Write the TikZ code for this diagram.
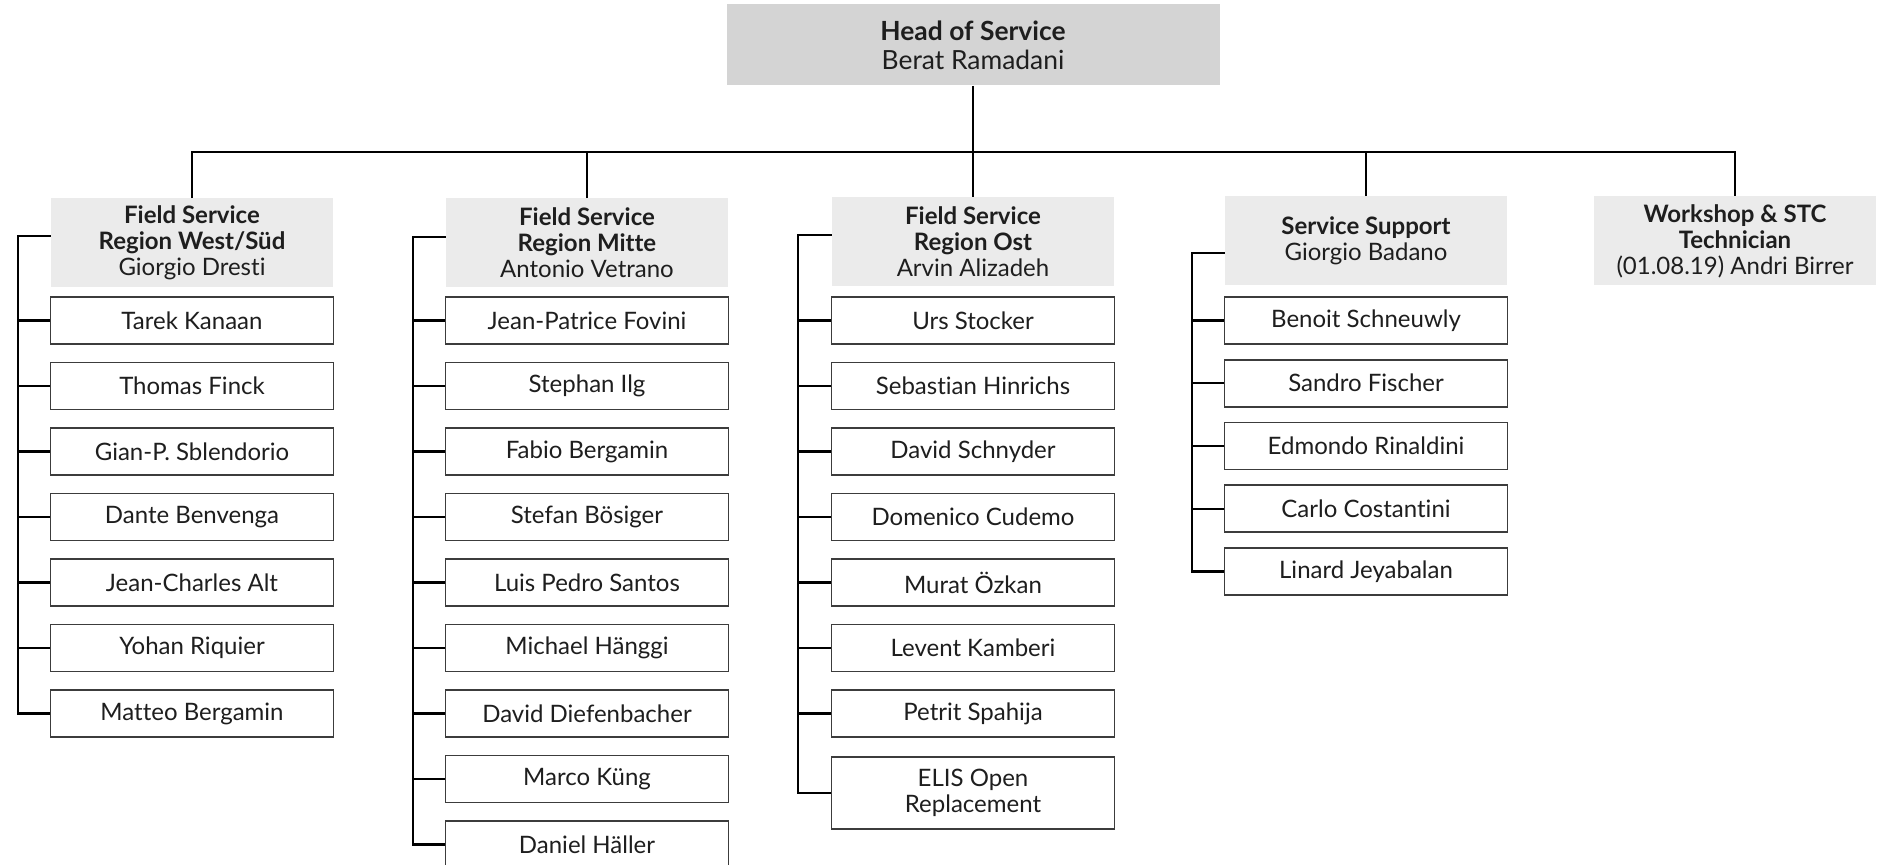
\documentclass[tikz,border=0pt]{standalone}
\usepackage{fontspec}
\setmainfont{Lato}[Ligatures=NoCommon]
\usepackage{tikz}
\usetikzlibrary{
    calc,
    positioning
}
\definecolor{headgray}{HTML}{D4D4D4}
\definecolor{leadgray}{HTML}{EBEBEB}
\definecolor{boxline}{HTML}{3C3C3C}
\definecolor{txt}{HTML}{1E1E1E}
\tikzset{
    head box/.style={
        shape=rectangle, fill=headgray, align=center, text=txt,
        minimum width=246.5pt, minimum height=40.5pt, inner sep=0pt,
        font=\fontsize{13.2}{14.5}\selectfont
    },
    lead box/.style={
        shape=rectangle, fill=leadgray, align=center, text=txt,
        minimum width=141pt, minimum height=44.5pt, inner sep=0pt,
        font=\fontsize{12}{13}\selectfont
    },
    staff box/.style={
        shape=rectangle, draw=boxline, line width=0.8pt, fill=white,
        align=center, text=txt, inner sep=0pt,
        minimum width=141.5pt, minimum height=#1,
        font=\fontsize{12}{13}\selectfont
    },
    staff box/.default=23.5pt,
    link/.style={
        draw=black, line width=1.2pt
    },
}

\begin{document}
\begin{tikzpicture}[x=0.5pt, y=-0.5pt]
    \useasboundingbox (0,0) rectangle (1877,865);

    % head and the five units
    \node[head box] (head) at (973,45) {\textbf{Head of Service}\\Berat Ramadani};
    \node[lead box] (west) at (192,243) {\textbf{Field Service}\\\textbf{Region West/Süd}\\Giorgio Dresti};
    \node[lead box] (mitte) at (587,243) {\textbf{Field Service}\\\textbf{Region Mitte}\\Antonio Vetrano};
    \node[lead box] (ost) at (973,242) {\textbf{Field Service}\\\textbf{Region Ost}\\Arvin Alizadeh};
    \node[lead box] (support) at (1366,241) {\textbf{Service Support}\\Giorgio Badano};
    \node[lead box] (shop) at (1735,241) {\textbf{Workshop \& STC}\\\textbf{Technician}\\(01.08.19) Andri Birrer};

    \coordinate (bus) at (973,152);
    \draw[link] (head.south) -- (ost.north);
    \draw[link] (west.north) |- (bus) -| (shop.north);
    \draw[link] (mitte.north) -- (mitte.north |- bus);
    \draw[link] (support.north) -- (support.north |- bus);

    % spine tops
    \coordinate (wtop) at (18,236);
    \coordinate (mtop) at (413,237);
    \coordinate (otop) at (798,235);
    \coordinate (stop) at (1192,253);

    % Region West/Sued
    \foreach \name [count=\i] in {Tarek Kanaan, Thomas Finck, Gian-P. Sblendorio,
        Dante Benvenga, Jean-Charles Alt, Yohan Riquier, Matteo Bergamin} {
        \node[staff box] (west-\i) at (192,{320.5+65.5*(\i-1)}) {\name};
        \draw[link] (west-\i.west) -- (west-\i.west -| wtop);
    }
    \draw[link] (wtop -| west.west) -- (wtop) |- (west-7.west);

    % Region Mitte
    \foreach \name [count=\i] in {Jean-Patrice Fovini, Stephan Ilg, Fabio Bergamin,
        Stefan Bösiger, Luis Pedro Santos, Michael Hänggi, David Diefenbacher,
        Marco Küng, Daniel Häller} {
        \node[staff box] (mitte-\i) at (587,{320.5+65.5*(\i-1)}) {\name};
        \draw[link] (mitte-\i.west) -- (mitte-\i.west -| mtop);
    }
    \draw[link] (mtop -| mitte.west) -- (mtop) |- (mitte-9.west);

    % Region Ost
    \foreach \name [count=\i] in {Urs Stocker, Sebastian Hinrichs, David Schnyder,
        Domenico Cudemo, Murat Özkan, Levent Kamberi, Petrit Spahija} {
        \node[staff box] (ost-\i) at (973,{320.5+65.5*(\i-1)}) {\name};
        \draw[link] (ost-\i.west) -- (ost-\i.west -| otop);
    }
    \node[staff box=36pt] (ost-8) at (973,793) {ELIS Open\\Replacement};
    \draw[link] (otop -| ost.west) -- (otop) |- (ost-8.west);

    % Service Support
    \foreach \name [count=\i] in {Benoit Schneuwly, Sandro Fischer, Edmondo Rinaldini,
        Carlo Costantini, Linard Jeyabalan} {
        \node[staff box] (support-\i) at (1366,{320.5+62.75*(\i-1)}) {\name};
        \draw[link] (support-\i.west) -- (support-\i.west -| stop);
    }
    \draw[link] (stop -| support.west) -- (stop) |- (support-5.west);
\end{tikzpicture}
\end{document}
